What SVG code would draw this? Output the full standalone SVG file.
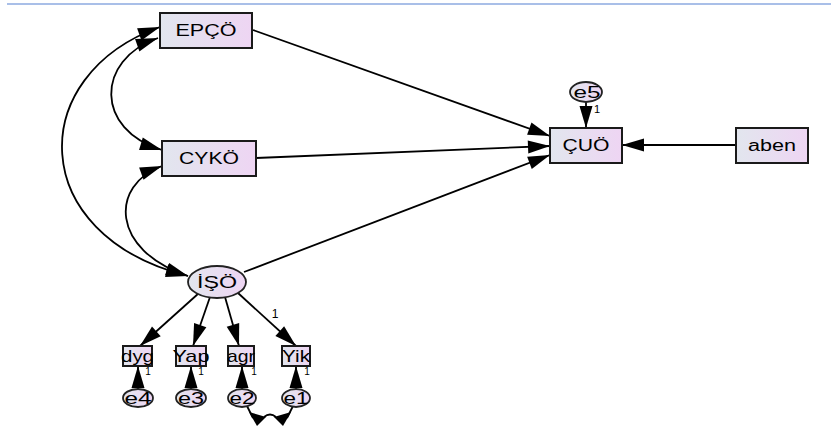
<svg xmlns="http://www.w3.org/2000/svg" width="831" height="432" viewBox="0 0 831 432">
<style>
.box{stroke:#1a1a1a;stroke-width:2;fill:url(#g)}
.ell{stroke:#222;stroke-width:1.8;fill:url(#g)}
.t{font-family:"Liberation Sans",Arial,sans-serif;font-size:16px;fill:#000;text-anchor:middle}
.s{font-family:"Liberation Sans",Arial,sans-serif;font-size:11px;fill:#000;text-anchor:middle}
.c{fill:none;stroke:#000;stroke-width:1.8}
.a{marker-end:url(#ah)}
.b{marker-start:url(#ah);marker-end:url(#ah)}
</style>
<defs>
<linearGradient id="g" x1="0" y1="0" x2="1" y2="0">
<stop offset="0" stop-color="#e2e6ee"/>
<stop offset="1" stop-color="#eed5f3"/>
</linearGradient>
<linearGradient id="lf" x1="0" y1="0" x2="0" y2="1">
<stop offset="0" stop-color="#a9bfe8"/>
<stop offset="1" stop-color="#dde6f6"/>
</linearGradient>
<marker id="ah" markerUnits="userSpaceOnUse" markerWidth="22" markerHeight="13" refX="22" refY="6.5" orient="auto-start-reverse" overflow="visible">
<path d="M0,0 L22,6.5 L0,13 z" fill="#000"/>
</marker>
</defs>
<rect width="831" height="432" fill="#fff"/>
<line x1="7" y1="4" x2="831" y2="4" stroke="#a9bfe8" stroke-width="2"/>
<line x1="7.5" y1="4" x2="7.5" y2="432" stroke="url(#lf)" stroke-width="2"/>

<g id="connectors">
<path class="c b" d="M160,27 C25,75 25,235 188,276"/>
<path class="c b" d="M158,38 C95,60 95,130 162,150"/>
<path class="c b" d="M162,166 C110,185 110,250 188,276"/>
<path class="c a" d="M253,30 L550,136"/>
<path class="c a" d="M256,158 L550,146"/>
<path class="c a" d="M244,272 L550,155"/>
<path class="c a" d="M586,102 L586,128"/>
<path class="c a" d="M736,145 L622,145"/>
<path class="c a" d="M199,293 L140,346"/>
<path class="c a" d="M210,297 L193,346"/>
<path class="c a" d="M225,297 L239,346"/>
<path class="c a" d="M238,293 L296,346"/>
<path class="c a" d="M138,389 L138,366"/>
<path class="c a" d="M191,389 L191,366"/>
<path class="c a" d="M242,389 L242,366"/>
<path class="c a" d="M296,389 L296,366"/>
<path class="c" d="M247,406 L253,418 M293,406 L287,418 M264,417 Q270,412 276,417"/>
<polygon points="249,412 257,426 266,417" fill="#000"/>
<polygon points="291,412 283,426 274,417" fill="#000"/>
<text class="s" x="597" y="113">1</text>
<text class="s" x="275" y="318" style="font-size:12px">1</text>
<text class="s" x="148" y="375" style="font-size:10px">1</text>
<text class="s" x="201" y="375" style="font-size:10px">1</text>
<text class="s" x="254" y="375" style="font-size:10px">1</text>
<text class="s" x="307" y="375" style="font-size:10px">1</text>
</g>

<g id="EPCO"><rect class="box" x="160" y="13" width="92" height="35"/><text class="t" x="206" y="36" textLength="61" lengthAdjust="spacingAndGlyphs">EPÇÖ</text></g>
<g id="CYKO"><rect class="box" x="162" y="141" width="94" height="35"/><text class="t" x="209" y="164" textLength="60" lengthAdjust="spacingAndGlyphs">CYKÖ</text></g>
<g id="CUO"><rect class="box" x="550" y="128" width="72" height="35"/><text class="t" x="586" y="151" textLength="47" lengthAdjust="spacingAndGlyphs">ÇUÖ</text></g>
<g id="aben"><rect class="box" x="736" y="128" width="72" height="35"/><text class="t" x="772" y="151" textLength="48" lengthAdjust="spacingAndGlyphs">aben</text></g>
<g id="e5"><ellipse class="ell" cx="586" cy="92" rx="16" ry="10"/><text class="t" x="587" y="97.5" textLength="27" lengthAdjust="spacingAndGlyphs">e5</text></g>
<g id="ISO"><ellipse class="ell" cx="217" cy="282" rx="29" ry="16"/><text class="t" x="217" y="288" textLength="40" lengthAdjust="spacingAndGlyphs">İŞÖ</text></g>
<g id="dyg"><rect class="box" x="123" y="346" width="29" height="20"/><text class="t" x="137.5" y="361.5" textLength="33" lengthAdjust="spacingAndGlyphs" style="font-size:17px">dyg</text></g>
<g id="Yap"><rect class="box" x="176" y="346" width="30" height="20"/><text class="t" x="191" y="361.5" textLength="37" lengthAdjust="spacingAndGlyphs" style="font-size:17px">Yap</text></g>
<g id="agr"><rect class="box" x="228" y="346" width="26" height="20"/><text class="t" x="241" y="361.5" textLength="28" lengthAdjust="spacingAndGlyphs" style="font-size:17px">agr</text></g>
<g id="Yik"><rect class="box" x="282" y="346" width="28" height="20"/><text class="t" x="296" y="361.5" textLength="28" lengthAdjust="spacingAndGlyphs" style="font-size:17px">Yik</text></g>
<g id="e4"><ellipse class="ell" cx="138" cy="398" rx="15" ry="9"/><text class="t" x="138" y="404" textLength="27" lengthAdjust="spacingAndGlyphs">e4</text></g>
<g id="e3"><ellipse class="ell" cx="191" cy="398" rx="15" ry="9"/><text class="t" x="191" y="404" textLength="26" lengthAdjust="spacingAndGlyphs">e3</text></g>
<g id="e2"><ellipse class="ell" cx="242" cy="398" rx="14" ry="9"/><text class="t" x="242" y="404" textLength="25" lengthAdjust="spacingAndGlyphs">e2</text></g>
<g id="e1"><ellipse class="ell" cx="296" cy="398" rx="14" ry="9"/><text class="t" x="296" y="404" textLength="25" lengthAdjust="spacingAndGlyphs">e1</text></g>
</svg>
